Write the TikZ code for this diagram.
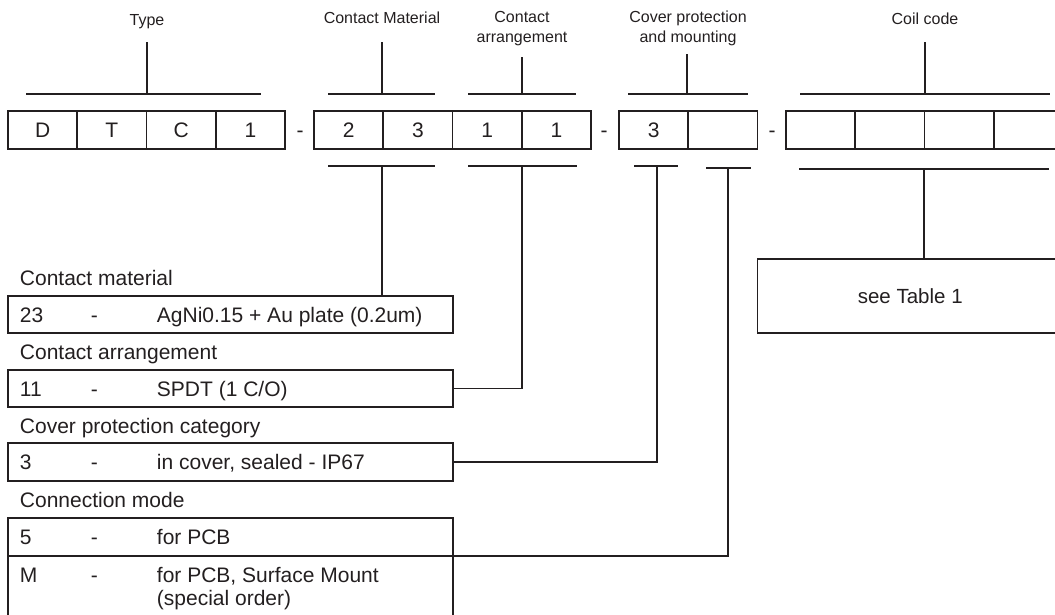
\documentclass[tikz,border=0pt]{standalone}
\usepackage{fontspec}
\setmainfont{Liberation Sans}
\definecolor{ink}{RGB}{35,31,32}
\begin{document}
\begin{tikzpicture}[x=1pt,y=-1pt,line width=1.9pt,color=ink,
  cell/.style={draw=ink,line width=1.9pt,minimum width=69.25pt,minimum height=37.5pt,inner sep=0pt,outer sep=0pt,text=ink,text height=15pt,text depth=0pt,font=\fontsize{21}{25}\selectfont},
  box/.style={draw=ink,line width=1.9pt,inner sep=0pt,outer sep=0pt},
  big/.style={text=ink,inner sep=0pt,font=\fontsize{21}{25}\selectfont},
  small/.style={text=ink,inner sep=0pt,align=center,font=\fontsize{16}{20}\selectfont}]
\useasboundingbox (0,0) rectangle (1055,614);

% code cells
\foreach \i/\t in {1/D,2/T,3/C,4/1}
  \node[cell] (a\i) at ({8+69.25*(\i-0.5)},130) {\t};
\foreach \i/\t in {1/2,2/3,3/1,4/1}
  \node[cell] (b\i) at ({314+69.25*(\i-0.5)},130) {\t};
\foreach \i/\t in {1/3,2/{}}
  \node[cell] (c\i) at ({619+69.25*(\i-0.5)},130) {\t};
\foreach \i in {1,2,3,4}
  \node[cell] (d\i) at ({786+69.25*(\i-0.5)},130) {};
\node[big,anchor=base] (dash1) at (300,137.5) {-};
\node[big,anchor=base] (dash2) at (604,137.5) {-};
\node[big,anchor=base] (dash3) at (772,137.5) {-};

% top labels
\node[small,anchor=base] (lType) at (147,25) {Type};
\node[small,anchor=base] (lCM) at (382,23.5) {Contact Material};
\node[small,anchor=south] (lCA) at (522,47) {Contact\\arrangement};
\node[small,anchor=south] (lCV) at (688,47) {Cover protection\\and mounting};
\node[small,anchor=base] (lCoil) at (925,24) {Coil code};

% top brackets
\coordinate (tType) at (147,42); \coordinate (hType) at (147,94);
\draw (26,94) -- (261,94); \draw (tType) -- (hType);
\coordinate (tCM) at (382,42); \coordinate (hCM) at (382,94);
\draw (328,94) -- (435,94); \draw (tCM) -- (hCM);
\coordinate (tCA) at (522,57); \coordinate (hCA) at (522,94);
\draw (468,94) -- (576,94); \draw (tCA) -- (hCA);
\coordinate (tCV) at (687,54); \coordinate (hCV) at (687,94);
\draw (628,94) -- (748,94); \draw (tCV) -- (hCV);
\coordinate (tCo) at (925,42); \coordinate (hCo) at (925,94);
\draw (800,94) -- (1050,94); \draw (tCo) -- (hCo);

% bottom brackets
\coordinate (cmB) at (382,166); \draw (328,166) -- (435,166);
\coordinate (caB) at (522,166); \draw (468,166) -- (577,166);
\coordinate (cvB) at (657,166); \draw (634,166) -- (678,166);
\coordinate (mtB) at (728,168); \draw (706,168) -- (751,168);
\coordinate (coB) at (924,169); \draw (799,169) -- (1049,169);

% legend boxes
\node[big,anchor=base west] (hdr1) at (19,285) {Contact material};
\node[box,minimum width=445pt,minimum height=37pt] (box1) at (230.5,314.5) {};
\node[big,anchor=base west] (k1) at (19,322.5) {23};
\node[big,anchor=base west] (s1) at (90,322.5) {-};
\node[big,anchor=base west] (v1) at (156,322.5) {AgNi0.15 + Au plate (0.2um)};

\node[big,anchor=base west] (hdr2) at (19,359) {Contact arrangement};
\node[box,minimum width=445pt,minimum height=37pt] (box2) at (230.5,388.5) {};
\node[big,anchor=base west] (k2) at (19,396) {11};
\node[big,anchor=base west] (s2) at (90,396) {-};
\node[big,anchor=base west] (v2) at (156,396) {SPDT (1 C/O)};

\node[big,anchor=base west] (hdr3) at (19,433) {Cover protection category};
\node[box,minimum width=445pt,minimum height=38pt] (box3) at (230.5,462) {};
\node[big,anchor=base west] (k3) at (19,469.5) {3};
\node[big,anchor=base west] (s3) at (90,469.5) {-};
\node[big,anchor=base west] (v3) at (156,469.5) {in cover, sealed - IP67};

\node[big,anchor=base west] (hdr4) at (19,507) {Connection mode};
\node[box,minimum width=445pt,minimum height=38pt] (box4a) at (230.5,537) {};
\node[big,anchor=base west] (k4) at (19,544.5) {5};
\node[big,anchor=base west] (s4) at (90,544.5) {-};
\node[big,anchor=base west] (v4) at (156,544.5) {for PCB};
\node[box,minimum width=445pt,minimum height=94pt] (box4b) at (230.5,603) {};
\node[big,anchor=base west] (k5) at (19,582.5) {M};
\node[big,anchor=base west] (s5) at (90,582.5) {-};
\node[big,anchor=base west] (v5) at (156,582.5) {for PCB, Surface Mount};
\node[big,anchor=base west] (v6) at (156,605) {(special order)};

\node[box,minimum width=305.5pt,minimum height=74pt,text=ink,font=\fontsize{20.5}{24}\selectfont] (tbl) at (910.25,296) {see Table 1};

% connectors
\draw (cmB) -- (cmB |- box1.north);
\draw (caB) |- (box2.east);
\draw (cvB) |- (box3.east);
\draw (mtB) |- (box4a.south east);
\draw (coB) -- (coB |- tbl.north);
\end{tikzpicture}
\end{document}
